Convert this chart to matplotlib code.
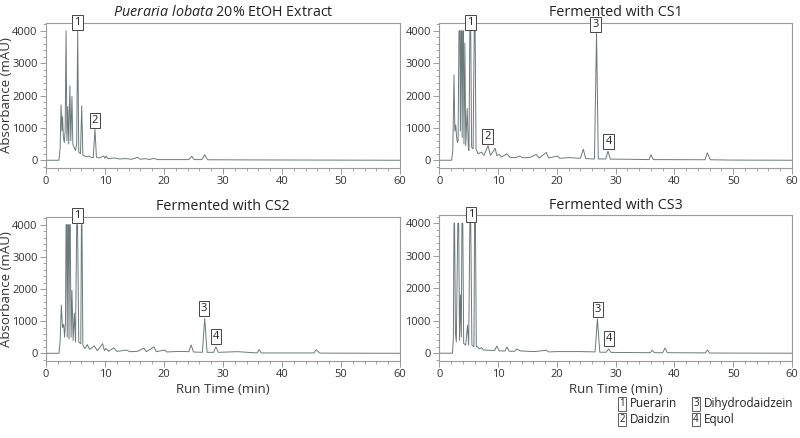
import numpy as np
import matplotlib
matplotlib.use('Agg')
import matplotlib.pyplot as plt
from matplotlib.ticker import MultipleLocator

plt.rcParams['font.family'] = ['Open Sans', 'DejaVu Sans']
plt.rcParams['mathtext.fontset'] = 'custom'
plt.rcParams['mathtext.rm'] = 'Open Sans'
plt.rcParams['mathtext.it'] = 'Open Sans:italic'

# traces: (run time min, absorbance mAU)
extract_trace = [(0, 0), (2.2, 0), (2.4, 400), (2.55, 1710), (2.7, 900), (2.8, 1350), (2.95, 700),
                 (3.1, 550), (3.25, 900), (3.4, 4000), (3.55, 600), (3.7, 1660), (3.85, 500),
                 (4.05, 2300), (4.2, 600), (4.4, 1970), (4.55, 500), (4.75, 400), (5.0, 300),
                 (5.2, 500), (5.37, 4000), (5.55, 250), (5.85, 200), (6.05, 1680), (6.25, 150),
                 (6.6, 130), (6.9, 110), (7.3, 130), (7.6, 90), (8.0, 80), (8.3, 960), (8.55, 90),
                 (9.0, 70), (9.8, 130), (10.0, 60), (10.2, 130), (10.5, 50), (11.5, 70), (12.5, 40),
                 (13.5, 50), (14.5, 30), (15.5, 90), (16.0, 30), (16.8, 50), (17.5, 25), (18.3, 55),
                 (19.0, 20), (24.2, 20), (24.7, 120), (25.1, 20), (26.4, 20), (26.9, 170), (27.4, 15),
                 (35, 10), (60, 0)]

cs1_trace = [(0, 0), (2.1, 0), (2.3, 300), (2.5, 2640), (2.65, 900), (2.8, 1090), (2.95, 700),
             (3.1, 550), (3.2, 600), (3.35, 4000), (3.5, 4000), (3.6, 900), (3.7, 4000), (3.8, 4000),
             (3.9, 700), (4.0, 4000), (4.1, 4000), (4.2, 500), (4.35, 3620), (4.5, 450), (4.75, 1600),
             (4.95, 350), (5.05, 300), (5.2, 4000), (5.35, 4000), (5.5, 400), (5.75, 350), (5.95, 4000),
             (6.1, 4000), (6.25, 350), (6.6, 200), (7.2, 250), (7.6, 150), (8.3, 450), (8.7, 150),
             (9.5, 370), (9.8, 140), (10.2, 180), (10.6, 100), (11.5, 200), (12.0, 90), (13.0, 80),
             (13.7, 130), (14.2, 75), (15.5, 90), (16.5, 180), (17.0, 70), (18.2, 240), (18.6, 70),
             (20.1, 130), (20.5, 60), (22, 80), (24.0, 60), (24.5, 340), (24.9, 50), (26.4, 40),
             (26.75, 3950), (27.05, 40), (28.3, 40), (28.7, 280), (29.1, 35), (32.5, 30), (35.7, 20),
             (36.0, 170), (36.4, 20), (45.2, 15), (45.6, 230), (46.1, 15), (50, 5), (60, 0)]

cs2_trace = [(0, 0), (2.2, 0), (2.4, 400), (2.6, 1500), (2.8, 800), (3.0, 900), (3.15, 500), (3.3, 950),
             (3.4, 4000), (3.5, 4000), (3.6, 500), (3.7, 4000), (3.8, 4000), (3.9, 450), (4.0, 4000),
             (4.1, 4000), (4.25, 500), (4.4, 1960), (4.6, 400), (4.8, 1250), (5.0, 350), (5.2, 4000),
             (5.35, 4000), (5.55, 350), (5.9, 300), (6.0, 4000), (6.1, 4000), (6.25, 250), (6.6, 150),
             (7.0, 270), (7.4, 120), (8.2, 230), (8.7, 80), (9.6, 300), (9.9, 80), (10.2, 150),
             (10.6, 60), (11.5, 170), (12.0, 60), (13.7, 100), (14.2, 50), (15.5, 60), (16.6, 160),
             (17.0, 50), (18.3, 200), (18.7, 50), (20.1, 100), (20.5, 40), (22.5, 60), (24.2, 50),
             (24.6, 260), (25.0, 40), (26.5, 30), (26.9, 1080), (27.3, 30), (28.4, 30), (28.8, 200),
             (29.2, 30), (32.5, 50), (35.8, 10), (36.1, 110), (36.5, 10), (45.4, 10), (45.8, 110),
             (46.4, 5), (60, 0)]

cs3_trace = [(0, 0), (2.25, 0), (2.4, 500), (2.5, 4000), (2.6, 4000), (2.75, 600), (2.9, 350),
             (3.15, 4000), (3.3, 4000), (3.45, 400), (3.6, 1800), (3.75, 500), (3.85, 4000), (4.0, 4000),
             (4.15, 300), (4.5, 250), (4.8, 860), (5.0, 250), (5.2, 4000), (5.35, 4000), (5.55, 250),
             (5.9, 200), (6.0, 4000), (6.15, 4000), (6.3, 200), (6.5, 200), (6.8, 130), (7.2, 170),
             (7.5, 100), (9.4, 80), (9.8, 220), (10.2, 70), (11.2, 70), (11.5, 190), (11.9, 60),
             (12.8, 60), (13.2, 130), (13.8, 70), (16.2, 50), (18.2, 90), (18.6, 40), (20.1, 50),
             (24, 50), (26.5, 40), (26.9, 1060), (27.3, 30), (28.4, 30), (28.8, 130), (29.2, 25),
             (35.9, 15), (36.2, 90), (36.6, 15), (38.0, 15), (38.4, 160), (38.8, 15), (45.3, 10),
             (45.6, 100), (46.0, 5), (60, 0)]

# peak labels: (number, run time, label height)
extract_labels = [('1', 5.37, 4270), ('2', 8.3, 1220)]
cs1_labels = [('1', 5.3, 4270), ('2', 8.2, 720), ('3', 26.55, 4180), ('4', 28.8, 570)]
cs2_labels = [('1', 5.37, 4300), ('3', 26.8, 1385), ('4', 28.8, 510)]
cs3_labels = [('1', 5.37, 4270), ('3', 26.95, 1345), ('4', 28.9, 443)]

titles = [r'$\it{Pueraria\ lobata}$ 20% EtOH Extract', 'Fermented with CS1',
          'Fermented with CS2', 'Fermented with CS3']
compounds = ['Puerarin', 'Daidzin', 'Dihydrodaidzein', 'Equol']

line_color = '#6b7a78'
frame_color = '#9a9a9a'
text_color = '#333333'

fig = plt.figure(figsize=(8, 4.38), dpi=100)
positions = [
    [0.0575, 0.6164, 0.4425, 0.3311],
    [0.5491, 0.6164, 0.4409, 0.3311],
    [0.0575, 0.1758, 0.4425, 0.3288],
    [0.5491, 0.1758, 0.4409, 0.3322],
]
traces = [extract_trace, cs1_trace, cs2_trace, cs3_trace]
labels = [extract_labels, cs1_labels, cs2_labels, cs3_labels]

for i in range(4):
    ax = fig.add_axes(positions[i])
    data = np.array(traces[i])
    ax.plot(data[:, 0], data[:, 1], color=line_color, lw=0.7)
    ax.set_xlim(0, 60)
    ax.set_ylim(-240, 4240)
    ax.xaxis.set_major_locator(MultipleLocator(10))
    ax.xaxis.set_minor_locator(MultipleLocator(2))
    ax.yaxis.set_major_locator(MultipleLocator(1000))
    ax.yaxis.set_minor_locator(MultipleLocator(200))
    ax.tick_params(which='major', length=4, width=0.7, color=frame_color,
                   labelsize=8, labelcolor=text_color, pad=2)
    ax.tick_params(which='minor', length=2, width=0.6, color=frame_color)
    for s in ax.spines.values():
        s.set_color(frame_color)
        s.set_linewidth(0.8)
    ax.set_title(titles[i], fontsize=10.3, color='#222222', pad=5)
    if i % 2 == 0:
        ax.set_ylabel('Absorbance (mAU)', fontsize=9.5, color=text_color)
        ax.yaxis.set_label_coords(-0.092, 0.5)
    if i >= 2:
        ax.set_xlabel('Run Time (min)', fontsize=9.5, color=text_color, labelpad=2)
    for num, x, y in labels[i]:
        ax.text(x, y, num, ha='center', va='center', fontsize=8, color='#222222',
                clip_on=False, zorder=5,
                bbox=dict(boxstyle='square,pad=0.18', fc='white', ec='#444444', lw=0.7))

# compound key in the lower right
key_pos = [(0.778, 0.078), (0.778, 0.042), (0.870, 0.078), (0.870, 0.042)]
for k in range(4):
    x, y = key_pos[k]
    fig.text(x, y, str(k + 1), ha='center', va='center', fontsize=7, color='#222222',
             bbox=dict(boxstyle='square,pad=0.12', fc='white', ec='#444444', lw=0.6))
    fig.text(x + 0.0095, y, compounds[k], ha='left', va='center', fontsize=8.5, color='#222222')

fig.savefig('out.png', dpi=100)
